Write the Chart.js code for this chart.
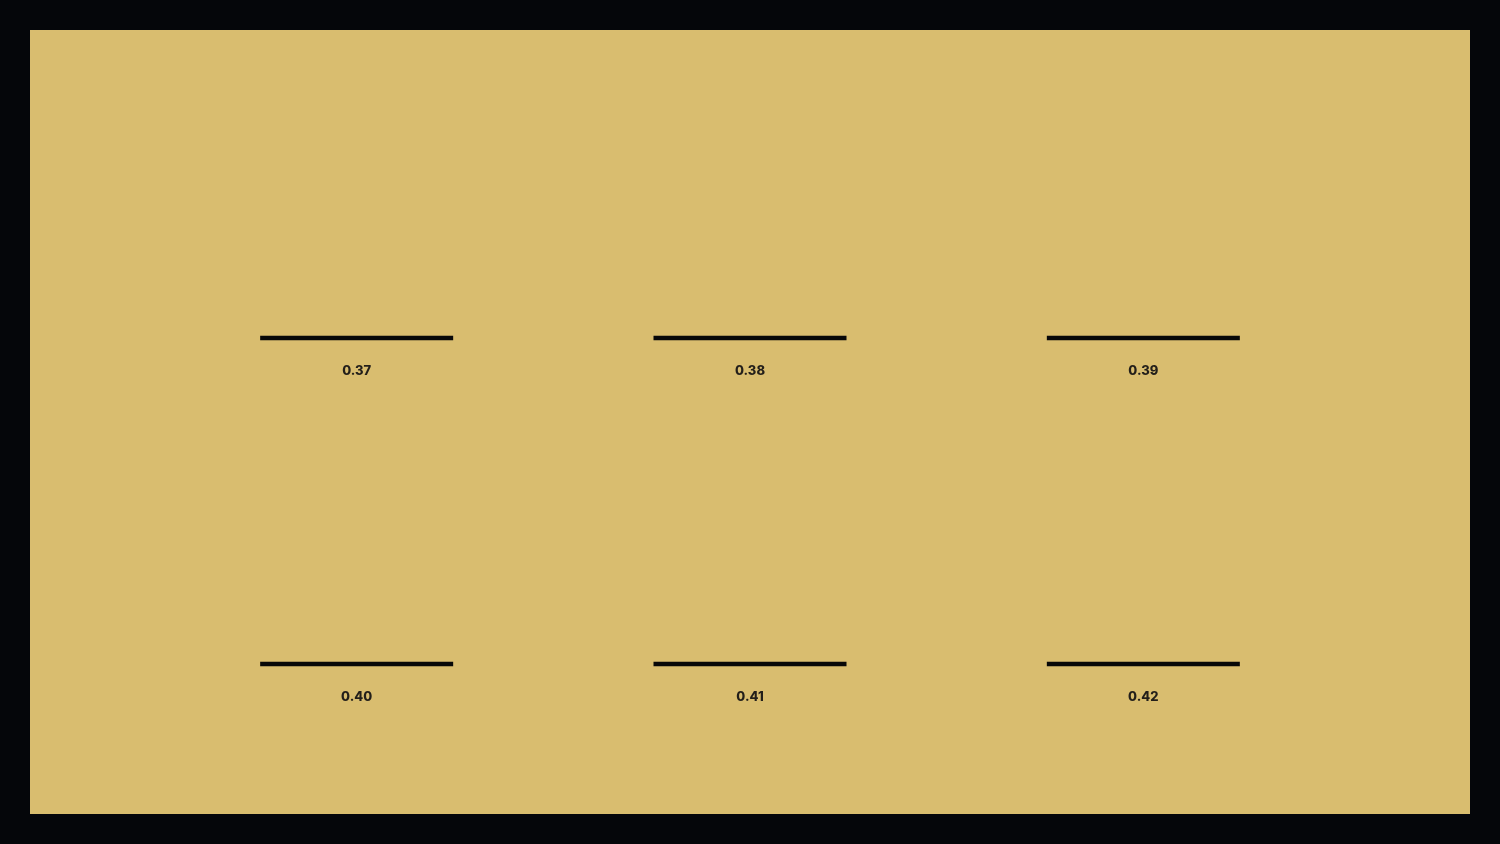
<!DOCTYPE html>
<html>
<head>
<meta charset="utf-8">
<title>Values</title>
<script src="https://cdn.jsdelivr.net/npm/chart.js@4"></script>
<style>
  html, body { margin: 0; padding: 0; background: #05060a; }
  body { width: 1500px; height: 844px; position: relative; overflow: hidden; }
  #panel { position: absolute; left: 30px; top: 30px; width: 1440px; height: 784px; background: #d9bd6f; }
  #myChart { display: block; }
</style>
</head>
<body>
<div id="panel"><canvas id="myChart" width="1440" height="784"></canvas></div>
<script>
  // Values shown under each line, read left to right, top to bottom
  var values = [0.37, 0.38, 0.39, 0.40, 0.41, 0.42];
  var labels = ['0.37', '0.38', '0.39', '0.40', '0.41', '0.42'];
  var columns = 3;

  var points = [];
  values.forEach(function(v, i){
    points.push({ x: i % columns, y: Math.floor(i / columns), v: v });
  });

  // Draws the value text below each line
  var valueLabels = {
    id: 'valueLabels',
    afterDatasetsDraw: function(chart){
      var ctx = chart.ctx;
      var meta = chart.getDatasetMeta(0);
      ctx.save();
      ctx.font = '800 13px Inter, "DejaVu Sans", sans-serif';
      ctx.fillStyle = '#231f1a';
      ctx.textAlign = 'center';
      ctx.textBaseline = 'middle';
      meta.data.forEach(function(el, i){
        ctx.fillText(labels[i], el.x, el.y + 33);
      });
      ctx.restore();
    }
  };

  const ctx = document.getElementById('myChart').getContext('2d');
  var myChart = new Chart(ctx, {
    type: 'scatter',
    data: {
      datasets: [{
        data: points,
        pointStyle: 'line',
        pointRadius: 96.5,
        pointHoverRadius: 96.5,
        borderColor: '#080808',
        backgroundColor: '#080808',
        borderWidth: 4.5,
        pointBorderWidth: 4.5,
        clip: false
      }]
    },
    options: {
      responsive: false,
      devicePixelRatio: 1,
      animation: false,
      events: [],
      // the big line points force at least ~101px padding on every side
      layout: { padding: { left: 130, right: 130, top: 145, bottom: 111 } },
      plugins: { legend: { display: false }, tooltip: { enabled: false } },
      scales: {
        x: { type: 'linear', min: -0.5, max: 2.5, display: false },
        y: { type: 'linear', min: -0.5, max: 1.12, reverse: true, display: false }
      }
    },
    plugins: [valueLabels]
  });
</script>
</body>
</html>
